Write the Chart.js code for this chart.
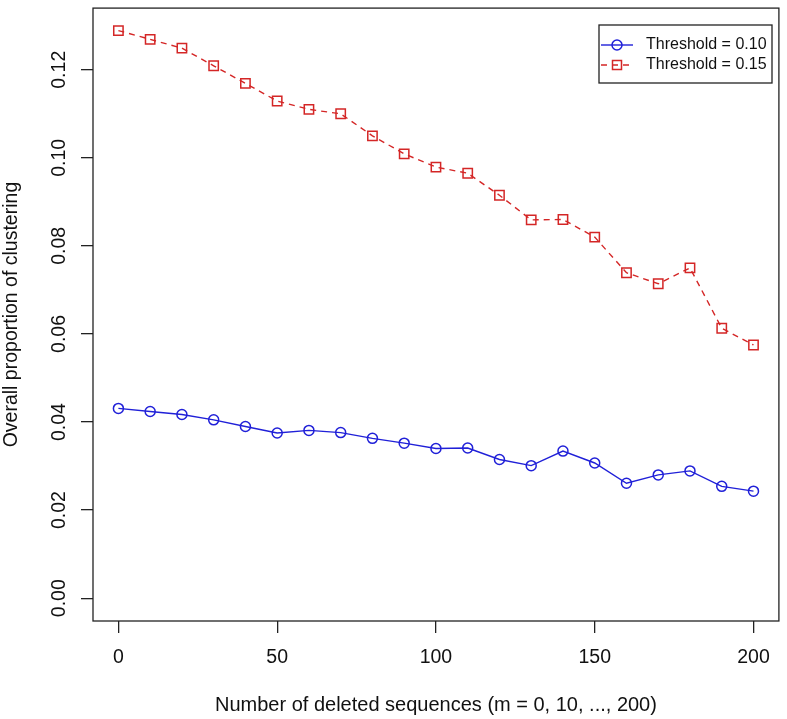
<!DOCTYPE html>
<html>
<head>
<meta charset="utf-8">
<script src="https://cdn.jsdelivr.net/npm/chart.js@4.4.1/dist/chart.umd.min.js"></script>
<style>
  html, body { margin: 0; padding: 0; background: #fff; }
  canvas { display: block; }
</style>
</head>
<body>
<canvas id="canvas" width="787" height="719"></canvas>
<script>
'use strict';

// number of deleted sequences
var deleted = [0, 10, 20, 30, 40, 50, 60, 70, 80, 90, 100, 110, 120, 130, 140, 150, 160, 170, 180, 190, 200];

var threshold10 = [0.0431, 0.0424, 0.0417, 0.0405, 0.0390, 0.0375, 0.0381, 0.0376, 0.0363, 0.0352, 0.0340,
	0.0341, 0.0315, 0.0301, 0.0334, 0.0307, 0.0261, 0.0280, 0.0289, 0.0254, 0.0243];

var threshold15 = [0.1289, 0.1269, 0.1249, 0.1209, 0.1169, 0.1129, 0.1110, 0.1100, 0.1050, 0.1009, 0.0979,
	0.0965, 0.0915, 0.0859, 0.0860, 0.0820, 0.0739, 0.0714, 0.0750, 0.0613, 0.0575];

var seriesNames = ['Threshold = 0.10', 'Threshold = 0.15'];
var xTicks = [0, 50, 100, 150, 200];
var yTicks = [0, 0.02, 0.04, 0.06, 0.08, 0.10, 0.12];

var FONT = '"Liberation Sans", Arial, Helvetica, sans-serif';
var BLUE = '#2020d8';
var RED = '#d42626';
var INK = '#222';

function points(ys) {
	return deleted.map(function (x, i) { return { x: x, y: ys[i] }; });
}

// R-style box, rotated y tick labels and legend
var rStyle = {
	id: 'rStyle',
	afterDraw: function (chart) {
		var ctx = chart.ctx;
		var a = chart.chartArea;
		ctx.save();
		ctx.strokeStyle = INK;
		ctx.lineWidth = 1.3;
		ctx.strokeRect(a.left, a.top, a.right - a.left, a.bottom - a.top);

		var yScale = chart.scales.y;
		ctx.fillStyle = '#111';
		ctx.font = '19.5px ' + FONT;
		ctx.textAlign = 'center';
		ctx.textBaseline = 'alphabetic';
		yScale.ticks.forEach(function (t) {
			var py = yScale.getPixelForValue(t.value);
			ctx.save();
			ctx.translate(65, py);
			ctx.rotate(-Math.PI / 2);
			ctx.fillText(t.value.toFixed(2), 0, 0);
			ctx.restore();
		});

		// legend
		var bx = 599, by = 25, bw = 173, bh = 58;
		ctx.fillStyle = '#fff';
		ctx.fillRect(bx, by, bw, bh);
		ctx.strokeStyle = INK;
		ctx.lineWidth = 1.3;
		ctx.strokeRect(bx, by, bw, bh);
		chart.data.datasets.forEach(function (ds, i) {
			var ly = 45 + i * 20;
			ctx.strokeStyle = ds.borderColor;
			ctx.lineWidth = ds.borderWidth;
			ctx.setLineDash(ds.borderDash || []);
			ctx.beginPath();
			ctx.moveTo(601, ly);
			ctx.lineTo(633, ly);
			ctx.stroke();
			ctx.setLineDash([]);
			ctx.lineWidth = ds.pointBorderWidth;
			ctx.beginPath();
			if (ds.pointStyle === 'rect') {
				ctx.rect(617 - 4.5, ly - 4.5, 9, 9);
			} else {
				ctx.arc(617, ly, ds.pointRadius, 0, Math.PI * 2);
			}
			ctx.stroke();
			ctx.fillStyle = '#111';
			ctx.font = '16px ' + FONT;
			ctx.textAlign = 'left';
			ctx.textBaseline = 'middle';
			ctx.fillText(ds.label, 646, ly);
		});
		ctx.restore();
	}
};

var config = {
	type: 'line',
	data: {
		datasets: [{
			label: seriesNames[0],
			data: points(threshold10),
			borderColor: BLUE,
			backgroundColor: 'rgba(0,0,0,0)',
			borderWidth: 1.4,
			pointStyle: 'circle',
			pointRadius: 5,
			pointBorderWidth: 1.5,
			pointBorderColor: BLUE,
			pointBackgroundColor: 'rgba(0,0,0,0)',
			tension: 0,
			fill: false
		}, {
			label: seriesNames[1],
			data: points(threshold15),
			borderColor: RED,
			backgroundColor: 'rgba(0,0,0,0)',
			borderWidth: 1.4,
			borderDash: [6, 5],
			pointStyle: 'rect',
			pointRadius: 6.6,
			pointBorderWidth: 1.5,
			pointBorderColor: RED,
			pointBackgroundColor: 'rgba(0,0,0,0)',
			tension: 0,
			fill: false
		}]
	},
	options: {
		responsive: false,
		devicePixelRatio: 1,
		animation: false,
		layout: { padding: { top: 3, right: 4, left: 0, bottom: 0 } },
		plugins: {
			legend: { display: false },
			tooltip: { enabled: false }
		},
		scales: {
			x: {
				type: 'linear',
				min: -8,
				max: 208,
				afterBuildTicks: function (scale) {
					scale.ticks = xTicks.map(function (v) { return { value: v }; });
				},
				afterFit: function (scale) { scale.height = 98; },
				grid: {
					drawOnChartArea: false,
					drawTicks: true,
					tickLength: 12,
					color: INK,
					lineWidth: 1.3
				},
				border: { display: false },
				ticks: {
					color: '#111',
					padding: 13,
					maxRotation: 0,
					font: { family: FONT, size: 19.5, lineHeight: 1.2 },
					callback: function (v) { return String(v); }
				},
				title: {
					display: true,
					text: 'Number of deleted sequences (m = 0, 10, ..., 200)',
					color: '#111',
					font: { family: FONT, size: 20, lineHeight: 1.2 },
					padding: { top: 0, bottom: 2 }
				}
			},
			y: {
				type: 'linear',
				min: -0.00518,
				max: 0.1340,
				afterBuildTicks: function (scale) {
					scale.ticks = yTicks.map(function (v) { return { value: v }; });
				},
				afterFit: function (scale) { scale.width = 93; },
				grid: {
					drawOnChartArea: false,
					drawTicks: true,
					tickLength: 12,
					color: INK,
					lineWidth: 1.3
				},
				border: { display: false },
				ticks: { display: false },
				title: {
					display: true,
					text: 'Overall proportion of clustering',
					color: '#111',
					font: { family: FONT, size: 19.5, lineHeight: 1.2 },
					padding: { top: 0, bottom: 0 }
				}
			}
		}
	},
	plugins: [rStyle]
};

var ctx = document.getElementById('canvas').getContext('2d');
window.mychart = new Chart(ctx, config);
</script>
</body>
</html>
